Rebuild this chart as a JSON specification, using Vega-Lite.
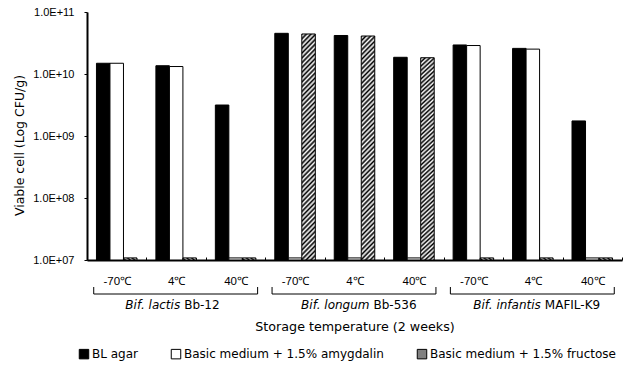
{
  "$schema": "https://vega.github.io/schema/vega-lite/v6.json",
  "width": 535,
  "height": 248,
  "autosize": "none",
  "padding": {"left": 87, "top": 12, "right": 16, "bottom": 109},
  "background": "white",
  "config": {
    "font": "DejaVu Sans",
    "view": {"stroke": null},
    "axis": {"domainColor": "black", "tickColor": "black", "labelColor": "black", "titleColor": "black", "grid": false, "labelFont": "Liberation Sans", "titleFont": "DejaVu Sans"}
  },
  "datasets": {
    "bars": [
      {"cat": "lactis -70℃", "medium": "BL agar", "cfu": 1.49e10},
      {"cat": "lactis -70℃", "medium": "Basic medium + 1.5% amygdalin", "cfu": 1.49e10},
      {"cat": "lactis -70℃", "medium": "Basic medium + 1.5% fructose", "cfu": 1.08e7},
      {"cat": "lactis 4℃", "medium": "BL agar", "cfu": 1.36e10},
      {"cat": "lactis 4℃", "medium": "Basic medium + 1.5% amygdalin", "cfu": 1.32e10},
      {"cat": "lactis 4℃", "medium": "Basic medium + 1.5% fructose", "cfu": 1.08e7},
      {"cat": "lactis 40℃", "medium": "BL agar", "cfu": 3.16e9},
      {"cat": "lactis 40℃", "medium": "Basic medium + 1.5% amygdalin", "cfu": 1.08e7},
      {"cat": "lactis 40℃", "medium": "Basic medium + 1.5% fructose", "cfu": 1.08e7},
      {"cat": "longum -70℃", "medium": "BL agar", "cfu": 4.53e10},
      {"cat": "longum -70℃", "medium": "Basic medium + 1.5% amygdalin", "cfu": 1.08e7},
      {"cat": "longum -70℃", "medium": "Basic medium + 1.5% fructose", "cfu": 4.42e10},
      {"cat": "longum 4℃", "medium": "BL agar", "cfu": 4.18e10},
      {"cat": "longum 4℃", "medium": "Basic medium + 1.5% amygdalin", "cfu": 1.08e7},
      {"cat": "longum 4℃", "medium": "Basic medium + 1.5% fructose", "cfu": 4.1e10},
      {"cat": "longum 40℃", "medium": "BL agar", "cfu": 1.86e10},
      {"cat": "longum 40℃", "medium": "Basic medium + 1.5% amygdalin", "cfu": 1.08e7},
      {"cat": "longum 40℃", "medium": "Basic medium + 1.5% fructose", "cfu": 1.83e10},
      {"cat": "infantis -70℃", "medium": "BL agar", "cfu": 2.94e10},
      {"cat": "infantis -70℃", "medium": "Basic medium + 1.5% amygdalin", "cfu": 2.88e10},
      {"cat": "infantis -70℃", "medium": "Basic medium + 1.5% fructose", "cfu": 1.08e7},
      {"cat": "infantis 4℃", "medium": "BL agar", "cfu": 2.59e10},
      {"cat": "infantis 4℃", "medium": "Basic medium + 1.5% amygdalin", "cfu": 2.52e10},
      {"cat": "infantis 4℃", "medium": "Basic medium + 1.5% fructose", "cfu": 1.08e7},
      {"cat": "infantis 40℃", "medium": "BL agar", "cfu": 1.75e9},
      {"cat": "infantis 40℃", "medium": "Basic medium + 1.5% amygdalin", "cfu": 1.08e7},
      {"cat": "infantis 40℃", "medium": "Basic medium + 1.5% fructose", "cfu": 1.08e7}
    ],
    "strains": [
      {"strain": "lactis", "first": "lactis -70℃", "mid": "lactis 4℃", "last": "lactis 40℃", "it": "Bif. lactis", "code": "Bb-12"},
      {"strain": "longum", "first": "longum -70℃", "mid": "longum 4℃", "last": "longum 40℃", "it": "Bif. longum", "code": "Bb-536"},
      {"strain": "infantis", "first": "infantis -70℃", "mid": "infantis 4℃", "last": "infantis 40℃", "it": "Bif. infantis", "code": "MAFIL-K9"}
    ]
  },
  "resolve": {"axis": {"x": "independent"}},
  "layer": [
    {
      "data": {"name": "bars"},
      "mark": {"type": "bar", "stroke": "black", "strokeWidth": 1},
      "encoding": {
        "x": {
          "field": "cat", "type": "nominal",
          "scale": {"domain": ["lactis -70℃", "lactis 4℃", "lactis 40℃", "longum -70℃", "longum 4℃", "longum 40℃", "infantis -70℃", "infantis 4℃", "infantis 40℃"], "paddingInner": 0, "paddingOuter": 0},
          "axis": {
            "title": "Storage temperature (2 weeks)",
            "labelExpr": "split(datum.value, ' ')[1]",
            "labelAngle": 0,
            "labelFontSize": 11.5,
            "labelPadding": 18,
            "tickBand": "extent",
            "tickSize": -3,
            "domainWidth": 2,
            "titleFontSize": 12.7,
            "titleFontWeight": "normal",
            "titleY": 60
          }
        },
        "xOffset": {
          "field": "medium", "type": "nominal",
          "scale": {"domain": ["BL agar", "Basic medium + 1.5% amygdalin", "Basic medium + 1.5% fructose"], "paddingInner": 0, "paddingOuter": 0.7}
        },
        "y": {
          "field": "cfu", "type": "quantitative", "stack": null,
          "scale": {"type": "log", "domain": [1e7, 1e11]},
          "axis": {
            "title": "Viable cell (Log CFU/g)",
            "values": [1e7, 1e8, 1e9, 1e10, 1e11],
            "labelExpr": "'1.0E+' + (round(log(datum.value)/LN10) < 10 ? '0' : '') + round(log(datum.value)/LN10)",
            "labelFontSize": 11,
            "labelPadding": 10,
            "tickSize": 3,
            "domainWidth": 2,
            "titleFontSize": 12.5,
            "titleFontWeight": "normal",
            "titlePadding": 6,
            "titleY": 133
          }
        },
        "y2": {"datum": 1e7},
        "fill": {
          "condition": {
            "test": "datum.medium === 'Basic medium + 1.5% fructose'",
            "value": {
              "gradient": "linear", "x1": 0, "y1": 0, "x2": 0.065, "y2": 1.058,
              "stops": [
                {"offset": 0.00, "color": "#000000"}, {"offset": 0.01, "color": "#ffffff"},
                {"offset": 0.02, "color": "#000000"}, {"offset": 0.03, "color": "#ffffff"},
                {"offset": 0.04, "color": "#000000"}, {"offset": 0.05, "color": "#ffffff"},
                {"offset": 0.06, "color": "#000000"}, {"offset": 0.07, "color": "#ffffff"},
                {"offset": 0.08, "color": "#000000"}, {"offset": 0.09, "color": "#ffffff"},
                {"offset": 0.10, "color": "#000000"}, {"offset": 0.11, "color": "#ffffff"},
                {"offset": 0.12, "color": "#000000"}, {"offset": 0.13, "color": "#ffffff"},
                {"offset": 0.14, "color": "#000000"}, {"offset": 0.15, "color": "#ffffff"},
                {"offset": 0.16, "color": "#000000"}, {"offset": 0.17, "color": "#ffffff"},
                {"offset": 0.18, "color": "#000000"}, {"offset": 0.19, "color": "#ffffff"},
                {"offset": 0.20, "color": "#000000"}, {"offset": 0.21, "color": "#ffffff"},
                {"offset": 0.22, "color": "#000000"}, {"offset": 0.23, "color": "#ffffff"},
                {"offset": 0.24, "color": "#000000"}, {"offset": 0.25, "color": "#ffffff"},
                {"offset": 0.26, "color": "#000000"}, {"offset": 0.27, "color": "#ffffff"},
                {"offset": 0.28, "color": "#000000"}, {"offset": 0.29, "color": "#ffffff"},
                {"offset": 0.30, "color": "#000000"}, {"offset": 0.31, "color": "#ffffff"},
                {"offset": 0.32, "color": "#000000"}, {"offset": 0.33, "color": "#ffffff"},
                {"offset": 0.34, "color": "#000000"}, {"offset": 0.35, "color": "#ffffff"},
                {"offset": 0.36, "color": "#000000"}, {"offset": 0.37, "color": "#ffffff"},
                {"offset": 0.38, "color": "#000000"}, {"offset": 0.39, "color": "#ffffff"},
                {"offset": 0.40, "color": "#000000"}, {"offset": 0.41, "color": "#ffffff"},
                {"offset": 0.42, "color": "#000000"}, {"offset": 0.43, "color": "#ffffff"},
                {"offset": 0.44, "color": "#000000"}, {"offset": 0.45, "color": "#ffffff"},
                {"offset": 0.46, "color": "#000000"}, {"offset": 0.47, "color": "#ffffff"},
                {"offset": 0.48, "color": "#000000"}, {"offset": 0.49, "color": "#ffffff"},
                {"offset": 0.50, "color": "#000000"}, {"offset": 0.51, "color": "#ffffff"},
                {"offset": 0.52, "color": "#000000"}, {"offset": 0.53, "color": "#ffffff"},
                {"offset": 0.54, "color": "#000000"}, {"offset": 0.55, "color": "#ffffff"},
                {"offset": 0.56, "color": "#000000"}, {"offset": 0.57, "color": "#ffffff"},
                {"offset": 0.58, "color": "#000000"}, {"offset": 0.59, "color": "#ffffff"},
                {"offset": 0.60, "color": "#000000"}, {"offset": 0.61, "color": "#ffffff"},
                {"offset": 0.62, "color": "#000000"}, {"offset": 0.63, "color": "#ffffff"},
                {"offset": 0.64, "color": "#000000"}, {"offset": 0.65, "color": "#ffffff"},
                {"offset": 0.66, "color": "#000000"}, {"offset": 0.67, "color": "#ffffff"},
                {"offset": 0.68, "color": "#000000"}, {"offset": 0.69, "color": "#ffffff"},
                {"offset": 0.70, "color": "#000000"}, {"offset": 0.71, "color": "#ffffff"},
                {"offset": 0.72, "color": "#000000"}, {"offset": 0.73, "color": "#ffffff"},
                {"offset": 0.74, "color": "#000000"}, {"offset": 0.75, "color": "#ffffff"},
                {"offset": 0.76, "color": "#000000"}, {"offset": 0.77, "color": "#ffffff"},
                {"offset": 0.78, "color": "#000000"}, {"offset": 0.79, "color": "#ffffff"},
                {"offset": 0.80, "color": "#000000"}, {"offset": 0.81, "color": "#ffffff"},
                {"offset": 0.82, "color": "#000000"}, {"offset": 0.83, "color": "#ffffff"},
                {"offset": 0.84, "color": "#000000"}, {"offset": 0.85, "color": "#ffffff"},
                {"offset": 0.86, "color": "#000000"}, {"offset": 0.87, "color": "#ffffff"},
                {"offset": 0.88, "color": "#000000"}, {"offset": 0.89, "color": "#ffffff"},
                {"offset": 0.90, "color": "#000000"}, {"offset": 0.91, "color": "#ffffff"},
                {"offset": 0.92, "color": "#000000"}, {"offset": 0.93, "color": "#ffffff"},
                {"offset": 0.94, "color": "#000000"}, {"offset": 0.95, "color": "#ffffff"},
                {"offset": 0.96, "color": "#000000"}, {"offset": 0.97, "color": "#ffffff"},
                {"offset": 0.98, "color": "#000000"}, {"offset": 0.99, "color": "#ffffff"},
                {"offset": 1.00, "color": "#000000"}
              ]
            }
          },
          "field": "medium", "type": "nominal",
          "scale": {"domain": ["BL agar", "Basic medium + 1.5% amygdalin", "Basic medium + 1.5% fructose"], "range": ["black", "white", "#808080"]},
          "legend": {
            "title": null,
            "orient": "none",
            "direction": "horizontal",
            "legendX": -9,
            "legendY": 336,
            "columnPadding": 31,
            "padding": 0,
            "symbolType": "square",
            "symbolSize": 90,
            "symbolStrokeColor": "black",
            "symbolStrokeWidth": 1,
            "symbolOpacity": 1,
            "labelFont": "DejaVu Sans",
            "labelFontSize": 12,
            "labelColor": "black",
            "labelOffset": 2,
            "labelLimit": 300
          }
        }
      }
    },
    {
      "data": {"name": "strains"},
      "mark": {"type": "rule", "color": "black", "strokeWidth": 1, "y": {"expr": "height + 34"}, "xOffset": -23, "x2Offset": 22},
      "encoding": {
        "x": {"field": "first", "type": "nominal", "axis": null},
        "x2": {"field": "last"}
      }
    },
    {
      "data": {"name": "strains"},
      "mark": {"type": "rule", "color": "black", "strokeWidth": 1, "y": {"expr": "height + 27"}, "y2": {"expr": "height + 34"}, "xOffset": -23},
      "encoding": {
        "x": {"field": "first", "type": "nominal", "axis": null}
      }
    },
    {
      "data": {"name": "strains"},
      "mark": {"type": "rule", "color": "black", "strokeWidth": 1, "y": {"expr": "height + 27"}, "y2": {"expr": "height + 34"}, "xOffset": 22},
      "encoding": {
        "x": {"field": "last", "type": "nominal", "axis": null}
      }
    },
    {
      "data": {"name": "strains"},
      "mark": {"type": "text", "fontStyle": "italic", "fontSize": 12, "align": "right", "baseline": "middle", "y": {"expr": "height + 45"}, "dx": {"expr": "datum.strain === 'longum' ? 15 : datum.strain === 'infantis' ? 8 : 4"}, "color": "black"},
      "encoding": {
        "x": {"field": "mid", "type": "nominal", "axis": null},
        "text": {"field": "it"}
      }
    },
    {
      "data": {"name": "strains"},
      "mark": {"type": "text", "fontSize": 12, "align": "left", "baseline": "middle", "y": {"expr": "height + 45"}, "dx": {"expr": "datum.strain === 'longum' ? 19 : datum.strain === 'infantis' ? 12 : 8"}, "color": "black"},
      "encoding": {
        "x": {"field": "mid", "type": "nominal", "axis": null},
        "text": {"field": "code"}
      }
    }
  ]
}
